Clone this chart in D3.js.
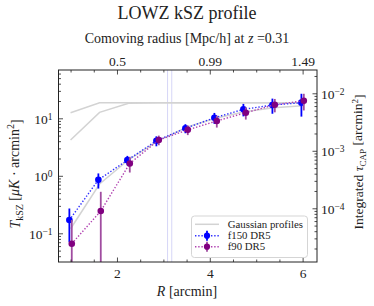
<!DOCTYPE html>
<html><head><meta charset="utf-8">
<script src="https://cdn.jsdelivr.net/npm/d3@7"></script>
<style>body{margin:0;background:#fff}text{font-family:"Liberation Serif","DejaVu Serif",serif;fill:#222}</style>
</head><body><svg id="c" width="374" height="306"></svg>
<script>
// ---- data ----
const radii = [1.0, 1.625, 2.25, 2.875, 3.5, 4.125, 4.75, 5.375, 6.0];
const f150 = [0.17, 0.85, 1.87, 4.06, 6.7, 10.2, 14.3, 17.0, 18.7];
const f150Err = [0.10, 0.25, 0.35, 0.8, 1.2, 2.2, 3.5, 5.0, 8.0];
const f90 = [0.066, 0.244, 1.64, 4.2, 6.3, 9.0, 12.5, 17.2, 20.2];
const f90Err = [0.105, 0.283, 0.5, 0.8, 1.2, 2.1, 3.0, 4.5, 6.5];
const gaussA = [12.5, 18.6, 18.6, 18.6, 18.6, 18.6, 18.6, 18.6, 18.6];
const gaussB = [4.2, 12.7, 18.2, 18.6, 18.6, 18.6, 18.6, 18.6, 18.6];
const gaussC = [0.12, 0.72, 1.9, 4.0, 7.0, 10.0, 13.0, 15.2, 16.5];
const vLines = [3.09, 3.18];
const xTicks = [2, 4, 6];
const topTickLabels = ["0.5", "0.99", "1.49"];
const leftTicks = [0.1, 1, 10];
const leftExp = ["−1", "0", "1"];
const rightTicks = [1e-4, 1e-3, 1e-2];
const rightExp = ["−4", "−3", "−2"];

const svg = d3.select("#c");
const L = 58.5, R = 317, T = 70, B = 262;
const x = d3.scaleLinear().domain([0.74, 6.31]).range([L, R]);
const yL = d3.scaleLog().domain([Math.pow(10, -1.499), Math.pow(10, 1.84)]).range([B, T]);
const yR = d3.scaleLog().domain([Math.pow(10, -4.934), Math.pow(10, -1.595)]).range([B, T]);

// vertical lines
svg.selectAll(".vl").data(vLines).enter().append("line")
  .attr("x1", d => x(d)).attr("x2", d => x(d)).attr("y1", T).attr("y2", B)
  .attr("stroke", "rgba(120,120,230,0.3)").attr("stroke-width", 1);

// gaussian lines
const line = d3.line().x((d, i) => x(radii[i])).y(d => yL(d));
[gaussA, gaussB, gaussC].forEach(g => {
  svg.append("path").attr("d", line(g)).attr("fill", "none")
    .attr("stroke", "#d3d3d3").attr("stroke-width", 1.5);
});

function series(vals, errs, off, col, barCol, lineCol) {
  const xs = radii.map(r => x(r) + off);
  const ln = d3.line().x((d, i) => xs[i]).y(d => yL(d));
  svg.append("path").attr("d", ln(vals)).attr("fill", "none")
    .attr("stroke", lineCol).attr("stroke-width", 1.4).attr("stroke-dasharray", "1.4,1.8");
  const dom = yL.domain();
  vals.forEach((v, i) => {
    const lo = v - errs[i], hi = v + errs[i];
    const yLo = lo <= dom[0] ? B : yL(lo);
    svg.append("line").attr("x1", xs[i]).attr("x2", xs[i])
      .attr("y1", Math.min(yLo, B)).attr("y2", yL(hi))
      .attr("stroke", barCol).attr("stroke-width", 1.8);
  });
  svg.selectAll(null).data(vals).enter().append("circle")
    .attr("cx", (d, i) => xs[i]).attr("cy", d => yL(d)).attr("r", 3.3).attr("fill", col);
}
series(f150, f150Err, -1.2, "#0000ff", "#0000ff", "#3030ff");
series(f90, f90Err, 1.2, "#800080", "#a04ca0", "#b040b0");

// frame
svg.append("rect").attr("x", L).attr("y", T).attr("width", R - L).attr("height", B - T)
  .attr("fill", "none").attr("stroke", "#222").attr("stroke-width", 1);

// axes
function minorLog(dom) {
  const out = [];
  for (let e = -6; e <= 3; e++) for (let k = 2; k <= 9; k++) {
    const v = k * Math.pow(10, e);
    if (v > dom[0] && v < dom[1]) out.push(v);
  }
  return out;
}
const xMinor = [1, 1.5, 2.5, 3, 3.5, 4.5, 5, 5.5];
const fs = "13.5px";
svg.append("g").attr("transform", `translate(0,${B})`)
  .call(d3.axisBottom(x).tickValues(xTicks).tickSize(-4.5).tickPadding(6).tickFormat(d3.format("d")));
svg.append("g").attr("transform", `translate(0,${B})`)
  .call(d3.axisBottom(x).tickValues(xMinor).tickSize(-2.5).tickFormat(""));
svg.append("g").attr("transform", `translate(0,${T})`)
  .call(d3.axisTop(x).tickValues(xTicks).tickSize(-4.5).tickPadding(4).tickFormat((d, i) => topTickLabels[i]));
svg.append("g").attr("transform", `translate(0,${T})`)
  .call(d3.axisTop(x).tickValues(xMinor).tickSize(-2.5).tickFormat(""));
const gL = svg.append("g").attr("transform", `translate(${L},0)`)
  .call(d3.axisLeft(yL).tickValues(leftTicks).tickSize(-4.5).tickPadding(5).tickFormat(""));
svg.append("g").attr("transform", `translate(${L},0)`)
  .call(d3.axisLeft(yL).tickValues(minorLog(yL.domain())).tickSize(-2.5).tickFormat(""));
const gR = svg.append("g").attr("transform", `translate(${R},0)`)
  .call(d3.axisRight(yR).tickValues(rightTicks).tickSize(-4.5).tickPadding(5).tickFormat(""));
svg.append("g").attr("transform", `translate(${R},0)`)
  .call(d3.axisRight(yR).tickValues(minorLog(yR.domain())).tickSize(-2.5).tickFormat(""));
svg.selectAll(".domain").remove();
svg.selectAll(".tick line").attr("stroke", "#222").attr("stroke-width", 0.8);
svg.selectAll(".tick text").attr("font-size", fs).attr("font-family", null).style("fill", "#222");

gL.selectAll(".tick").each(function (d, i) {
  d3.select(this).append("text").attr("x", -6).attr("dy", "0.38em").attr("text-anchor", "end")
    .attr("font-size", fs).call(t => { t.append("tspan").text("10"); t.append("tspan").attr("dy", "-0.45em").attr("font-size", "9.5px").text(leftExp[i]); });
});
gR.selectAll(".tick").each(function (d, i) {
  d3.select(this).append("text").attr("x", 4).attr("dy", "0.38em").attr("text-anchor", "start")
    .attr("font-size", fs).call(t => { t.append("tspan").text("10"); t.append("tspan").attr("dy", "-0.45em").attr("font-size", "9.5px").text(rightExp[i]); });
});

// titles
svg.append("text").attr("x", 187).attr("y", 19).attr("text-anchor", "middle")
  .attr("font-size", "18px").text("LOWZ kSZ profile");
const tl = svg.append("text").attr("x", 187).attr("y", 43).attr("text-anchor", "middle").attr("font-size", "14px");
tl.append("tspan").text("Comoving radius [Mpc/h] at ");
tl.append("tspan").attr("font-style", "italic").text("z");
tl.append("tspan").text(" =0.31");
const xl = svg.append("text").attr("x", 187).attr("y", 296).attr("text-anchor", "middle").attr("font-size", "14px");
xl.append("tspan").attr("font-style", "italic").text("R");
xl.append("tspan").text(" [arcmin]");

const yl = svg.append("text").attr("transform", "translate(20,174) rotate(-90)").attr("text-anchor", "middle").attr("font-size", "14px");
yl.append("tspan").attr("font-style", "italic").text("T");
yl.append("tspan").attr("font-size", "10px").attr("dy", "0.3em").text("kSZ");
yl.append("tspan").attr("dy", "-0.3em").text(" [");
yl.append("tspan").attr("font-style", "italic").text("μK");
yl.append("tspan").text(" · arcmin");
yl.append("tspan").attr("font-size", "10px").attr("dy", "-0.45em").text("2");
yl.append("tspan").attr("dy", "0.45em").text("]");

const yr = svg.append("text").attr("transform", "translate(363,162) rotate(-90)").attr("text-anchor", "middle").attr("font-size", "13.5px");
yr.append("tspan").text("Integrated ");
yr.append("tspan").attr("font-style", "italic").text("τ");
yr.append("tspan").attr("font-size", "9px").attr("dy", "0.3em").text("CAP");
yr.append("tspan").attr("dy", "-0.3em").text(" [arcmin");
yr.append("tspan").attr("font-size", "9px").attr("dy", "-0.45em").text("2");
yr.append("tspan").attr("dy", "0.45em").text("]");

// legend
const lg = svg.append("g");
lg.append("rect").attr("x", 191.5).attr("y", 216).attr("width", 116).attr("height", 41.5).attr("rx", 3)
  .attr("fill", "rgba(255,255,255,0.85)").attr("stroke", "#d5d5d5").attr("stroke-width", 1);
const items = [
  { label: "Gaussian profiles", y: 224.3, type: "g" },
  { label: "f150 DR5", y: 235.7, type: "s", col: "#0000ff", bar: "#0000ff", lc: "#3030ff" },
  { label: "f90 DR5", y: 246.7, type: "s", col: "#800080", bar: "#a04ca0", lc: "#b040b0" }
];
items.forEach(it => {
  if (it.type === "g") {
    lg.append("line").attr("x1", 195).attr("x2", 219).attr("y1", it.y).attr("y2", it.y)
      .attr("stroke", "#d3d3d3").attr("stroke-width", 1.5);
  } else {
    lg.append("line").attr("x1", 195).attr("x2", 219).attr("y1", it.y).attr("y2", it.y)
      .attr("stroke", it.lc).attr("stroke-width", 1.4).attr("stroke-dasharray", "1.4,1.8");
    lg.append("line").attr("x1", 207).attr("x2", 207).attr("y1", it.y - 5).attr("y2", it.y + 5)
      .attr("stroke", it.bar).attr("stroke-width", 1.8);
    lg.append("circle").attr("cx", 207).attr("cy", it.y).attr("r", 3.1).attr("fill", it.col);
  }
  lg.append("text").attr("x", 227.7).attr("y", it.y + 3.5).attr("font-size", "10.8px").text(it.label);
});
</script></body></html>
